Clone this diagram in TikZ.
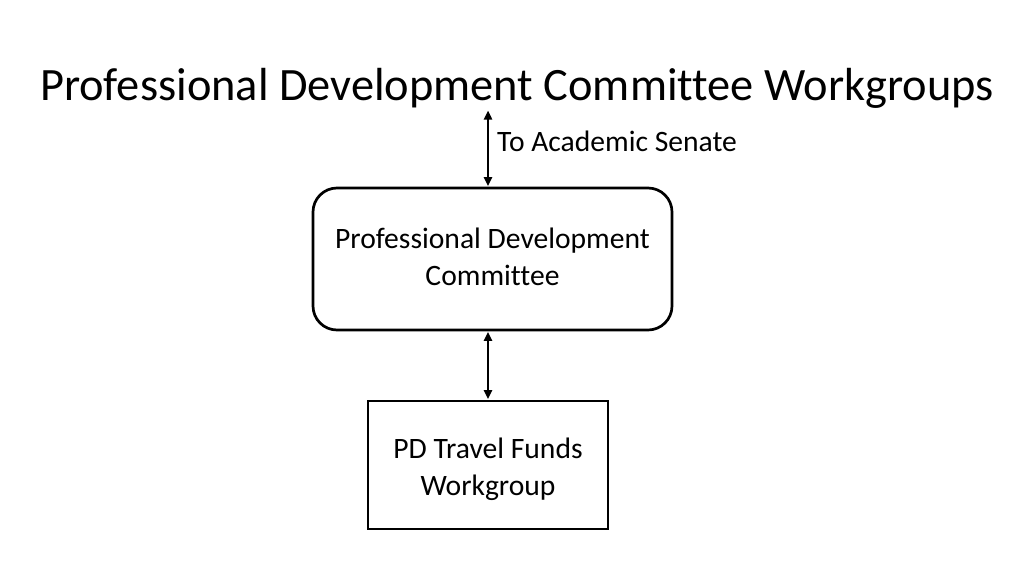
\documentclass[tikz,border=0pt]{standalone}
\usepackage{fontspec}
\setmainfont[Ligatures=NoCommon]{Carlito}
\usetikzlibrary{arrows.meta}
\begin{document}
\begin{tikzpicture}[x=1pt,y=-1pt,
  box/.style={draw=black,line width=2.7pt,inner sep=0pt},
  txt/.style={align=center,font=\fontsize{29.6}{37}\selectfont,inner sep=0pt},
  conn/.style={line width=2.4pt,{Triangle[length=9pt,width=8pt]}-{Triangle[length=9pt,width=8pt]},shorten <=0.5pt,shorten >=0.5pt}]
\useasboundingbox (0,0) rectangle (1024,576);
\node[font=\fontsize{46.4}{54}\selectfont,anchor=base] (title) at (517,100) {Professional Development Committee Workgroups};
\node[box,rounded corners=24pt,minimum width=359pt,minimum height=142pt] (pdc) at (492.5,259) {};
\node[txt] (pdctext) at (492.5,257) {Professional Development\\Committee};
\node[box,minimum width=240pt,minimum height=128pt] (tf) at (488,465) {};
\node[txt] (tftext) at (488,469) {PD Travel Funds\\Workgroup};
\coordinate (top) at (488,110);
\draw[conn] (top) -- (top|-pdc.north);
\draw[conn] (tf.north|-pdc.south) -- (tf.north);
\node[anchor=west,font=\fontsize{29.6}{34}\selectfont,inner sep=0pt] (lab) at (497,141) {To Academic Senate};
\end{tikzpicture}
\end{document}
